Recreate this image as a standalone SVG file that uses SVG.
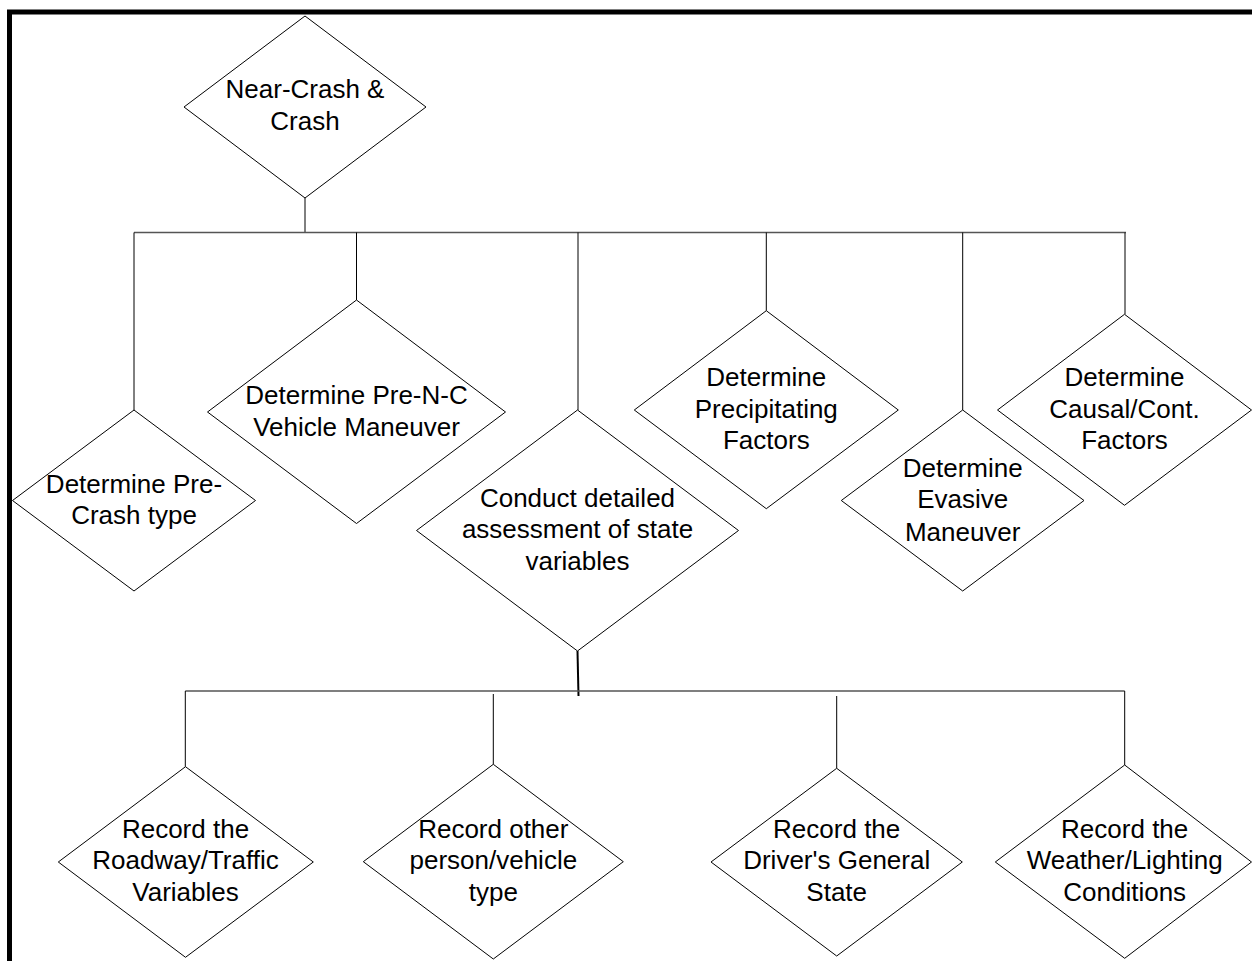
<svg xmlns="http://www.w3.org/2000/svg" width="1252" height="961" viewBox="0 0 1252 961">
  <style>
    .frame { fill: none; stroke: #000; stroke-width: 5; }
    .shape { fill: #fff; stroke: #000; stroke-width: 1; }
    .bus { fill: none; stroke: #555; stroke-width: 1.6; }
    .drop { fill: none; stroke: #000; stroke-width: 1; }
    .stem { fill: none; stroke: #000; stroke-width: 2; }
    .label { font-family: "Liberation Sans", Arial, sans-serif; font-size: 26px; fill: #000; text-anchor: middle; }
  </style>
  <rect width="1252" height="961" fill="#fff"/>
  <path class="frame" d="M9.5 961 V12 H1252"/>

  <g id="connectors">
    <!-- root to first tier -->
    <path class="drop" d="M305 198 V232"/>
    <path class="bus" d="M134 232.5 H1126"/>
    <path class="drop" d="M134 232.5 V410"/>
    <path class="drop" d="M356.5 232.5 V300"/>
    <path class="drop" d="M578 232.5 V410"/>
    <path class="drop" d="M766.3 232.5 V310.7"/>
    <path class="drop" d="M962.7 232.5 V410"/>
    <path class="drop" d="M1125 232.5 V314.3"/>
    <!-- assessment to second tier -->
    <path class="stem" d="M577.5 651 L578.5 696"/>
    <path class="bus" d="M185.3 691 H1124.7"/>
    <path class="drop" d="M185.3 691 V766.7"/>
    <path class="drop" d="M493.3 694 V764.3"/>
    <path class="drop" d="M836.7 696 V768.3"/>
    <path class="drop" d="M1124.7 691 V765"/>
  </g>

  <g id="near-crash-crash">
    <polygon class="shape" points="305,16 426,107 305,198 184,107"/>
    <text class="label" x="305"><tspan x="305" y="98.3">Near-Crash &amp;</tspan><tspan x="305" y="130">Crash</tspan></text>
  </g>

  <g id="pre-crash-type">
    <polygon class="shape" points="134,410 255.5,500.5 134,591 12.5,500.5"/>
    <text class="label"><tspan x="134" y="492.7">Determine Pre-</tspan><tspan x="134" y="524">Crash type</tspan></text>
  </g>

  <g id="pre-nc-maneuver">
    <polygon class="shape" points="356.5,300 505.5,412 356.5,523.5 207.5,412"/>
    <text class="label"><tspan x="356.5" y="404.3">Determine Pre-N-C</tspan><tspan x="356.5" y="435.7">Vehicle Maneuver</tspan></text>
  </g>

  <g id="state-assessment">
    <polygon class="shape" points="577.5,410 738.5,530.5 577.5,651 416.5,530.5"/>
    <text class="label"><tspan x="577.5" y="506.7">Conduct detailed</tspan><tspan x="577.5" y="538.3">assessment of state</tspan><tspan x="577.5" y="570">variables</tspan></text>
  </g>

  <g id="precipitating-factors">
    <polygon class="shape" points="766.3,310.7 898.3,410 766.3,508.7 634.3,410"/>
    <text class="label"><tspan x="766.3" y="385.7">Determine</tspan><tspan x="766.3" y="417.7">Precipitating</tspan><tspan x="766.3" y="449.3">Factors</tspan></text>
  </g>

  <g id="evasive-maneuver">
    <polygon class="shape" points="962.7,410 1084,500.5 962.7,591 841.3,500.5"/>
    <text class="label"><tspan x="962.7" y="476.7">Determine</tspan><tspan x="962.7" y="508.3">Evasive</tspan><tspan x="962.7" y="540.7">Maneuver</tspan></text>
  </g>

  <g id="causal-factors">
    <polygon class="shape" points="1124.5,314.3 1251.5,410 1124.5,505.3 997.5,410"/>
    <text class="label"><tspan x="1124.5" y="385.7">Determine</tspan><tspan x="1124.5" y="417.7">Causal/Cont.</tspan><tspan x="1124.5" y="449.3">Factors</tspan></text>
  </g>

  <g id="roadway-traffic">
    <polygon class="shape" points="185.5,766.7 313.3,862 185.5,957.3 58.3,862"/>
    <text class="label"><tspan x="185.5" y="837.7">Record the</tspan><tspan x="185.5" y="869.3">Roadway/Traffic</tspan><tspan x="185.5" y="901">Variables</tspan></text>
  </g>

  <g id="other-person-vehicle">
    <polygon class="shape" points="493.3,764.3 623.3,861.7 493.3,959 363.3,861.7"/>
    <text class="label"><tspan x="493.3" y="837.7">Record other</tspan><tspan x="493.3" y="869.3">person/vehicle</tspan><tspan x="493.3" y="901">type</tspan></text>
  </g>

  <g id="driver-state">
    <polygon class="shape" points="836.7,768.3 962.3,862 836.7,956 711,862"/>
    <text class="label"><tspan x="836.7" y="837.7">Record the</tspan><tspan x="836.7" y="869.3">Driver's General</tspan><tspan x="836.7" y="901">State</tspan></text>
  </g>

  <g id="weather-lighting">
    <polygon class="shape" points="1124.7,765 1251.5,862 1124.7,958.3 995.3,862"/>
    <text class="label"><tspan x="1124.7" y="837.7">Record the</tspan><tspan x="1124.7" y="869.3">Weather/Lighting</tspan><tspan x="1124.7" y="901">Conditions</tspan></text>
  </g>
</svg>
